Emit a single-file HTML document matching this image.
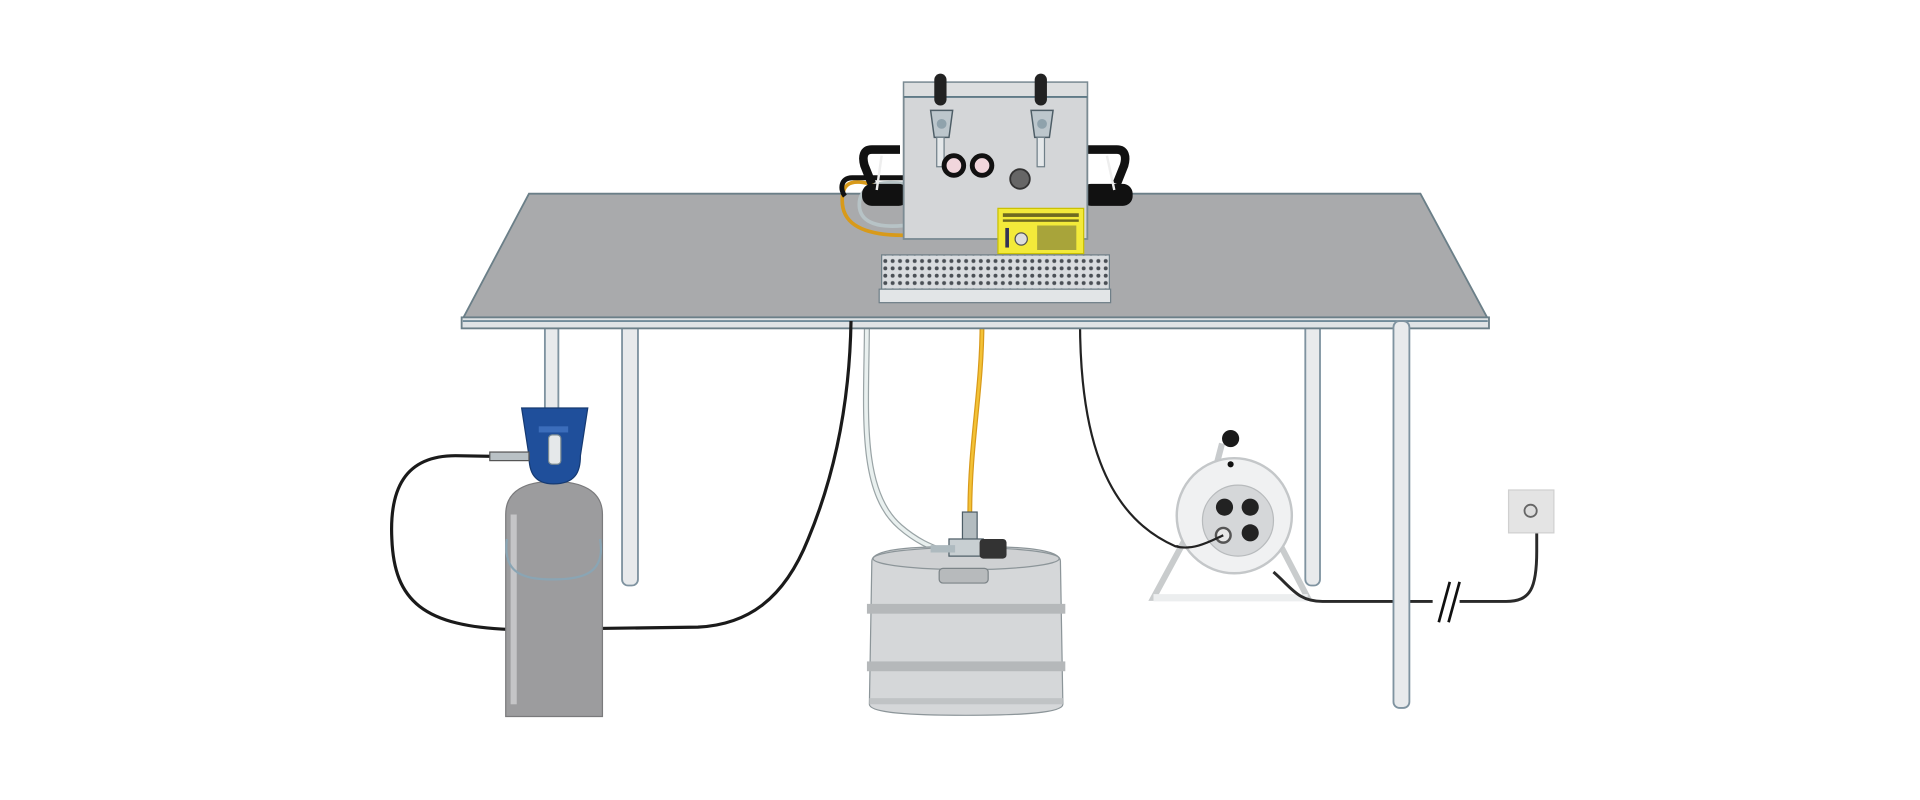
<!DOCTYPE html>
<html><head><meta charset="utf-8"><style>
html,body{margin:0;padding:0;background:#fff;width:1920px;height:800px;overflow:hidden}
svg{display:block}
</style></head><body>
<svg width="1920" height="800" viewBox="0 0 1568 653" xmlns="http://www.w3.org/2000/svg">
<defs>
<pattern id="dots" width="6" height="6" patternUnits="userSpaceOnUse"><rect width="6" height="6" fill="#d9dcdf"/><circle cx="3" cy="3" r="1.6" fill="#4a4f55"/></pattern>
</defs>
<rect width="1568" height="653" fill="#fff"/>
<!-- back legs -->
<rect x="445" y="262" width="11" height="80" fill="#e8eaec" stroke="#7f93a0" stroke-width="1.5"/>
<rect x="1066" y="262" width="12" height="216" rx="5" fill="#e8eaec" stroke="#7f93a0" stroke-width="1.5"/>
<!-- cables behind table (from dispenser) -->
<path d="M708 262 C708 330 700 400 735 430 C750 443 762 447 770 450" fill="none" stroke="#9aa4a6" stroke-width="5"/>
<path d="M708 262 C708 330 700 400 735 430 C750 443 762 447 770 450" fill="none" stroke="#e9f0ef" stroke-width="3"/>
<path d="M802 262 C802 320 792 360 792 420" fill="none" stroke="#d89a1a" stroke-width="4"/>
<path d="M802 262 C802 320 792 360 792 420" fill="none" stroke="#f3c236" stroke-width="2"/>
<path d="M882 262 C882 350 900 420 960 446 L995 445" fill="none" stroke="#222" stroke-width="1.8"/>
<!-- front-ish legs -->
<rect x="508" y="262" width="13" height="216" rx="5" fill="#e8eaec" stroke="#7f93a0" stroke-width="1.5"/>
<!-- table top -->
<polygon points="432,158 1160,158 1215,260 378,260" fill="#a9aaac" stroke="#6b7f88" stroke-width="1.5"/>
<rect x="377" y="259" width="839" height="9" fill="#dfe3e5" stroke="#6b7f88" stroke-width="1.5"/>
<line x1="378" y1="262" x2="1215" y2="262" stroke="#6f8a99" stroke-width="1.5"/>
<!-- dispenser hoses on table -->
<path d="M740 160 C712 150 690 140 688 160 C686 180 700 192 738 192" fill="none" stroke="#d89a1a" stroke-width="3"/>
<path d="M740 150 C712 146 700 155 702 170 C704 182 718 186 738 184" fill="none" stroke="#b7c3c6" stroke-width="3"/>
<path d="M740 145 L696 145 C686 145 686 155 690 160" fill="none" stroke="#111" stroke-width="4"/>
<!-- handles -->
<path d="M735 122 L712 122 C705 122 704 128 706 135 L712 150" fill="none" stroke="#111" stroke-width="7"/>
<rect x="704" y="150" width="38" height="18" rx="8" fill="#111"/>
<path d="M888 122 L912 122 C919 122 920 128 918 135 L912 150" fill="none" stroke="#111" stroke-width="7"/>
<rect x="883" y="150" width="42" height="18" rx="8" fill="#111"/>
<path d="M720 127 L716 155 M904 127 L910 155" stroke="#eee" stroke-width="2"/>
<!-- box -->
<rect x="738" y="67" width="150" height="128" fill="#d4d6d8" stroke="#7b8b93" stroke-width="1.5"/>
<rect x="738" y="67" width="150" height="12" fill="#dcdedf" stroke="#7b8b93" stroke-width="1"/>
<line x1="738" y1="79" x2="888" y2="79" stroke="#5f7a86" stroke-width="1.5"/>
<!-- taps -->
<g>
<rect x="763" y="60" width="10" height="26" rx="5" fill="#222"/>
<rect x="845" y="60" width="10" height="26" rx="5" fill="#222"/>
<path d="M760 90 L778 90 L775 112 L763 112 Z" fill="#bcc6cc" stroke="#4d5d66" stroke-width="1.2"/>
<path d="M842 90 L860 90 L857 112 L845 112 Z" fill="#bcc6cc" stroke="#4d5d66" stroke-width="1.2"/>
<rect x="765" y="112" width="6" height="24" fill="#e4e8ea" stroke="#6f7f88"/>
<rect x="847" y="112" width="6" height="24" fill="#e4e8ea" stroke="#6f7f88"/>
<circle cx="769" cy="101" r="4" fill="#8fa2ac"/><circle cx="851" cy="101" r="4" fill="#8fa2ac"/>
</g>
<circle cx="779" cy="135" r="8" fill="#f1d6dc" stroke="#111" stroke-width="4"/>
<circle cx="802" cy="135" r="8" fill="#f1d6dc" stroke="#111" stroke-width="4"/>
<circle cx="833" cy="146" r="8" fill="#666" stroke="#333" stroke-width="1.5"/>
<!-- label -->
<rect x="815" y="170" width="70" height="37" fill="#f3ea3a" stroke="#c9c000"/>
<rect x="819" y="174" width="62" height="3" fill="#6f6a20"/>
<rect x="819" y="179" width="62" height="2" fill="#6f6a20"/>
<rect x="847" y="184" width="32" height="20" fill="#a8a43a"/>
<rect x="821" y="186" width="3" height="16" fill="#335"/>
<circle cx="834" cy="195" r="5" fill="#ddd" stroke="#555"/>
<!-- drip tray -->
<rect x="720" y="208" width="186" height="28" fill="url(#dots)" stroke="#6f7f88"/>
<rect x="718" y="236" width="189" height="11" fill="#e2e5e7" stroke="#6f7f88"/>
<!-- CO2 line -->
<path d="M430 373 L372 372 C330 372 318 400 320 440 C322 490 345 512 420 514 L570 512 C610 510 640 490 660 440 C685 380 694 320 695 262" fill="none" stroke="#1a1a1a" stroke-width="2.6"/>
<!-- cylinder -->
<path d="M413 420 C413 400 430 393 452 393 C474 393 492 400 492 420 L492 585 L413 585 Z" fill="#9c9c9e" stroke="#7a7a7c"/>
<rect x="417" y="420" width="5" height="155" fill="#c5c5c7"/>
<path d="M414 440 C410 470 430 473 452 473 C476 473 495 468 490 440" fill="none" stroke="#8aa5b4" stroke-width="1.8"/>
<!-- regulator -->
<path d="M426 333 L480 333 L474 372 C474 385 470 395 452 395 C436 395 432 385 432 372 Z" fill="#1f4f9b" stroke="#163a72"/>
<rect x="440" y="348" width="24" height="5" fill="#3b6dbb"/>
<rect x="448" y="355" width="10" height="24" rx="3" fill="#e5e8ea" stroke="#7b8b93"/>
<rect x="400" y="369" width="32" height="7" fill="#b9c1c5" stroke="#555"/>
<!-- keg -->
<path d="M712 458 C712 448 745 446 789 446 C833 446 866 448 866 458 L868 575 C868 582 835 584 789 584 C743 584 710 582 710 575 Z" fill="#d5d7d9" stroke="#8c9599"/>
<ellipse cx="789" cy="456" rx="76" ry="9" fill="#cfd1d3" stroke="#8c9599"/>
<rect x="767" y="464" width="40" height="12" rx="3" fill="#b7babc" stroke="#7c8488"/>
<rect x="708" y="493" width="162" height="8" fill="#b5b8ba"/>
<rect x="708" y="540" width="162" height="8" fill="#b5b8ba"/>
<rect x="710" y="570" width="158" height="5" fill="#c0c3c5"/>
<!-- coupler -->
<rect x="786" y="418" width="12" height="30" fill="#b3bcc0" stroke="#4d5d66"/>
<rect x="775" y="440" width="28" height="14" fill="#c8cfd2" stroke="#4d5d66"/>
<rect x="800" y="440" width="22" height="16" rx="3" fill="#333"/>
<path d="M760 448 L780 448" stroke="#aebabf" stroke-width="6"/>
<!-- reel -->
<path d="M998 362 L985 412" stroke="#c8cbcd" stroke-width="5"/>
<circle cx="1005" cy="358" r="7" fill="#1a1a1a"/>
<path d="M968 440 L942 488 L1068 488 L1043 440" fill="none" stroke="#c9cccd" stroke-width="5"/>
<path d="M942 488 L1068 488" stroke="#eceeef" stroke-width="6"/>
<circle cx="1008" cy="421" r="47" fill="#f0f1f2" stroke="#c4c7c9" stroke-width="2"/>
<circle cx="1011" cy="425" r="29" fill="#d5d7d9" stroke="#b8bbbd"/>
<circle cx="1005" cy="379" r="2.5" fill="#111"/>
<circle cx="1000" cy="414" r="7" fill="#222"/>
<circle cx="1021" cy="414" r="7" fill="#222"/>
<circle cx="1021" cy="435" r="7" fill="#222"/>
<circle cx="999" cy="437" r="6" fill="#e8e8e8" stroke="#555" stroke-width="2"/>
<path d="M960 446 C975 450 990 441 999 437" fill="none" stroke="#222" stroke-width="1.8"/>
<!-- cable to wall -->
<path d="M1040 467 C1055 480 1060 491 1080 491 L1230 491 C1250 491 1255 480 1255 450 L1255 418" fill="none" stroke="#2a2a2a" stroke-width="2.4"/>
<rect x="1170" y="485" width="22" height="12" fill="#fff"/>
<path d="M1175 508 L1184 475 M1183 508 L1192 475" stroke="#111" stroke-width="2.2"/>
<!-- front right leg -->
<rect x="1138" y="262" width="13" height="316" rx="5" fill="#e8eaec" stroke="#7f93a0" stroke-width="1.5"/>
<!-- wall socket -->
<rect x="1232" y="400" width="37" height="35" fill="#e4e4e4" stroke="#d0d0d0"/>
<circle cx="1250" cy="417" r="5" fill="#ddd" stroke="#666" stroke-width="1.5"/>
</svg>
</body></html>
